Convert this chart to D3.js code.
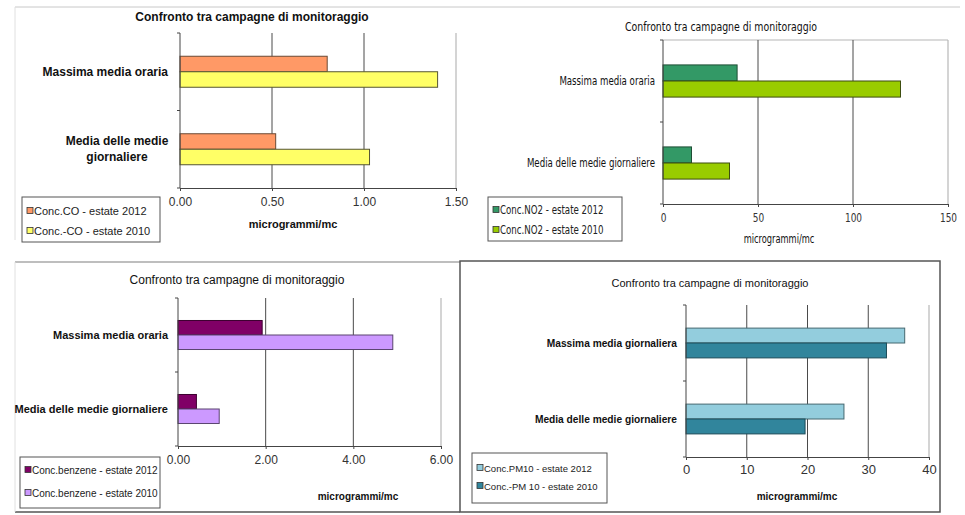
<!DOCTYPE html>
<html>
<head>
<meta charset="utf-8">
<script src="https://cdn.jsdelivr.net/npm/d3@7"></script>
<style>
  body { margin: 0; background: #fff; }
  svg { display: block; }
</style>
</head>
<body>
<div id="chart"></div>
<script>
// ---------- data ----------
var titleText = "Confronto  tra campagne di monitoraggio";
var unitText = "microgrammi/mc";

var coCategories = ["Massima media oraria", "Media delle medie giornaliere"];
var coSeries = ["Conc.CO - estate 2012", "Conc.-CO - estate 2010"];
var co2012 = [0.80, 0.52];
var co2010 = [1.40, 1.03];
var coTicks = [0, 0.5, 1.0, 1.5];

var no2Categories = ["Massima media oraria", "Media delle medie giornaliere"];
var no2Series = ["Conc.NO2 - estate 2012", "Conc.NO2 - estate 2010"];
var no22012 = [39, 15];
var no22010 = [125, 35];
var no2Ticks = [0, 50, 100, 150];

var bzCategories = ["Massima media oraria", "Media delle medie giornaliere"];
var bzSeries = ["Conc.benzene - estate 2012", "Conc.benzene - estate 2010"];
var bz2012 = [1.92, 0.42];
var bz2010 = [4.90, 0.94];
var bzTicks = [0, 2, 4, 6];

var pmCategories = ["Massima media giornaliera", "Media delle medie giornaliere"];
var pmSeries = ["Conc.PM10 - estate 2012", "Conc.-PM 10 - estate 2010"];
var pm2012 = [36, 26];
var pm2010 = [33, 19.6];
var pmTicks = [0, 10, 20, 30, 40];

var svg = d3.select("#chart").append("svg")
    .attr("width", 965)
    .attr("height", 515);

var arial = "'Liberation Sans', Arial, sans-serif";
var narrow = "'Liberation Sans Narrow', 'DejaVu Sans Condensed', 'Liberation Sans', sans-serif";

// narrow text: squeeze horizontally (Arial Narrow look)
function styleText(sel, cfg) {
    sel.style("font-family", cfg.font);
    if (cfg.squeeze) sel.style("font-stretch", "condensed");
    return sel;
}

// frame lines between the pictures
svg.append("line").attr("x1", 15).attr("x2", 960).attr("y1", 7).attr("y2", 7)
    .attr("stroke", "#c8c8c8");
svg.append("line").attr("x1", 15).attr("x2", 15).attr("y1", 7).attr("y2", 240)
    .attr("stroke", "#e0e0e0");
svg.append("line").attr("x1", 15).attr("x2", 460).attr("y1", 262).attr("y2", 262)
    .attr("stroke", "#a8a8a8").attr("stroke-width", 1.5);
svg.append("line").attr("x1", 15).attr("x2", 460).attr("y1", 512).attr("y2", 512)
    .attr("stroke", "#555").attr("stroke-width", 1.5);
svg.append("line").attr("x1", 15).attr("x2", 15).attr("y1", 262).attr("y2", 512)
    .attr("stroke", "#e0e0e0");
svg.append("rect").attr("x", 460).attr("y", 261).attr("width", 480).attr("height", 251)
    .attr("fill", "none").attr("stroke", "#555").attr("stroke-width", 1.5);

function fitWidth(textSel, w) {
    if (w) textSel.attr("textLength", w).attr("lengthAdjust", "spacingAndGlyphs");
}

function drawPanel(cfg) {
    var g = svg.append("g");

    var x = d3.scaleLinear()
        .domain([cfg.ticks[0], cfg.ticks[cfg.ticks.length - 1]])
        .range([cfg.x0, cfg.x1]);

    var y = d3.scaleBand()
        .domain(cfg.categories)
        .range([cfg.top, cfg.bottom]);

    var ySub = d3.scaleBand()
        .domain([0, 1])
        .range([0, y.bandwidth()])
        .paddingInner(0)
        .paddingOuter(cfg.outer);

    var sq = cfg.squeeze || 1;

    // title
    var title = g.append("text")
        .attr("x", cfg.titleX).attr("y", cfg.titleY)
        .attr("text-anchor", "middle")
        .style("font-size", cfg.titleSize + "px")
        .style("font-weight", cfg.titleBold ? "bold" : "normal")
        .attr("fill", "#111")
        .text(titleText);
    styleText(title, cfg);
    if (cfg.squeeze) fitWidth(title, cfg.titleW);

    // plot area border (light)
    g.append("line")
        .attr("x1", x.range()[1]).attr("x2", x.range()[1])
        .attr("y1", cfg.top).attr("y2", cfg.bottom)
        .attr("stroke", "#a9a9a9");
    if (cfg.topBorder) {
        g.append("line")
            .attr("x1", cfg.x0).attr("x2", cfg.x1)
            .attr("y1", cfg.top).attr("y2", cfg.top)
            .attr("stroke", "#b5b5b5");
    }

    // gridlines
    g.selectAll(".grid")
        .data(cfg.ticks.slice(1, -1))
        .enter().append("line")
        .attr("class", "grid")
        .attr("x1", function (d) { return x(d); })
        .attr("x2", function (d) { return x(d); })
        .attr("y1", cfg.top).attr("y2", cfg.bottom)
        .attr("stroke", "#4a4a4a");

    // bars
    var series = [cfg.v2012, cfg.v2010];
    series.forEach(function (vals, si) {
        g.selectAll(".bar" + si)
            .data(vals)
            .enter().append("rect")
            .attr("class", "bar" + si)
            .attr("x", x(0))
            .attr("y", function (d, i) { return y(cfg.categories[i]) + ySub(si); })
            .attr("width", function (d) { return x(d) - x(0); })
            .attr("height", ySub.bandwidth())
            .attr("fill", cfg.colors[si])
            .attr("stroke", cfg.strokes[si])
            .attr("stroke-width", 1);
    });

    // x axis
    var xAxis = g.append("g")
        .attr("transform", "translate(0," + cfg.bottom + ")")
        .call(d3.axisBottom(x).tickValues(cfg.ticks).tickSize(3).tickPadding(cfg.tickPad)
            .tickFormat(d3.format(cfg.fmt)));
    xAxis.select(".domain").attr("stroke", "#444");
    xAxis.selectAll(".tick line").attr("stroke", "#444");
    xAxis.selectAll("text")
        .style("font-family", cfg.font)
        .style("font-size", cfg.tickSize + "px")
        .attr("fill", "#333");
    if (cfg.squeeze) {
        xAxis.selectAll("text").each(function () {
            var t = d3.select(this);
            fitWidth(t, this.getComputedTextLength() * sq);
        });
    }

    // y axis: line with ticks at band edges
    var edges = cfg.categories.map(function (c) { return y(c); }).concat([cfg.bottom]);
    g.append("line")
        .attr("x1", cfg.x0).attr("x2", cfg.x0)
        .attr("y1", cfg.top).attr("y2", cfg.bottom)
        .attr("stroke", "#444");
    g.selectAll(".ytick")
        .data(edges)
        .enter().append("line")
        .attr("class", "ytick")
        .attr("x1", cfg.x0 - 3).attr("x2", cfg.x0)
        .attr("y1", function (d) { return d; })
        .attr("y2", function (d) { return d; })
        .attr("stroke", "#444");

    // category labels
    cfg.categories.forEach(function (c, i) {
        var lines = cfg.wrap[i];
        var cy = y(c) + y.bandwidth() / 2;
        lines.forEach(function (ln, k) {
            var t = g.append("text")
                .attr("text-anchor", lines.length > 1 ? "middle" : "end")
                .attr("x", lines.length > 1 ? cfg.labelMid : cfg.labelX)
                .attr("y", cy + 4 + (k - (lines.length - 1) / 2) * 16)
                .style("font-size", cfg.labelSize + "px")
                .style("font-weight", cfg.labelBold ? "bold" : "normal")
                .attr("fill", "#111")
                .text(ln);
            styleText(t, cfg);
            if (cfg.squeeze) fitWidth(t, t.node().getComputedTextLength() * sq);
        });
    });

    // axis title
    var ut = g.append("text")
        .attr("x", cfg.unitX).attr("y", cfg.unitY)
        .attr("text-anchor", "middle")
        .style("font-size", cfg.unitSize + "px")
        .style("font-weight", cfg.unitBold ? "bold" : "normal")
        .attr("fill", "#111")
        .text(unitText);
    styleText(ut, cfg);
    if (cfg.squeeze) fitWidth(ut, ut.node().getComputedTextLength() * sq);

    // legend
    var lg = g.append("g").attr("transform", "translate(" + cfg.leg[0] + "," + cfg.leg[1] + ")");
    lg.append("rect")
        .attr("width", cfg.leg[2]).attr("height", cfg.leg[3])
        .attr("fill", "#fff").attr("stroke", "#555");
    cfg.series.forEach(function (s, si) {
        var ly = cfg.legRows[si];
        lg.append("rect")
            .attr("x", 5).attr("y", ly - 3.5)
            .attr("width", 6).attr("height", 6)
            .attr("fill", cfg.colors[si]).attr("stroke", "#333").attr("stroke-width", 0.8);
        var lt = lg.append("text")
            .attr("x", 12).attr("y", ly + 3.5)
            .style("font-size", cfg.legSize + "px")
            .attr("fill", "#222")
            .text(s);
        styleText(lt, cfg);
        if (cfg.squeeze) fitWidth(lt, lt.node().getComputedTextLength() * sq);
    });
}

drawPanel({
    categories: coCategories, series: coSeries, v2012: co2012, v2010: co2010, ticks: coTicks,
    fmt: ".2f", x0: 180, x1: 456, top: 33, bottom: 188, outer: 1.5,
    colors: ["#ff9966", "#ffff66"], strokes: ["#6b4a35", "#555533"],
    font: arial, titleX: 252, titleY: 21, titleSize: 12, titleBold: true,
    tickSize: 12, tickPad: 6, labelSize: 12, labelBold: true, labelX: 168, labelMid: 117,
    wrap: [["Massima media oraria"], ["Media delle medie", "giornaliere"]],
    unitX: 293, unitY: 228, unitSize: 11, unitBold: true,
    leg: [22, 197, 138, 45], legRows: [14, 34], legSize: 11
});

drawPanel({
    categories: no2Categories, series: no2Series, v2012: no22012, v2010: no22010, ticks: no2Ticks,
    fmt: "d", x0: 663, x1: 948, top: 40, bottom: 204, outer: 1.55, topBorder: true,
    colors: ["#339966", "#99cc00"], strokes: ["#1f4d35", "#3d4d10"],
    font: narrow, squeeze: 0.8, titleW: 192, titleX: 721, titleY: 31, titleSize: 12, titleBold: false,
    tickSize: 12.5, tickPad: 6, labelSize: 12, labelBold: false, labelX: 655, labelMid: 600,
    wrap: [["Massima media oraria"], ["Media delle medie giornaliere"]],
    unitX: 779, unitY: 243, unitSize: 11.5, unitBold: false,
    leg: [488, 197, 134, 44], legRows: [13, 33], legSize: 12
});

drawPanel({
    categories: bzCategories, series: bzSeries, v2012: bz2012, v2010: bz2010, ticks: bzTicks,
    fmt: ".2f", x0: 178, x1: 441, top: 298, bottom: 446, outer: 1.55,
    colors: ["#800066", "#cc99ff"], strokes: ["#3d0030", "#5a4570"],
    font: arial, titleX: 237, titleY: 284, titleSize: 12, titleBold: false,
    tickSize: 12, tickPad: 6, labelSize: 11, labelBold: true, labelX: 168, labelMid: 100,
    wrap: [["Massima media oraria"], ["Media delle medie giornaliere"]],
    unitX: 358, unitY: 500, unitSize: 10, unitBold: true,
    leg: [20, 457, 140, 51], legRows: [13, 36], legSize: 10
});

drawPanel({
    categories: pmCategories, series: pmSeries, v2012: pm2012, v2010: pm2010, ticks: pmTicks,
    fmt: "d", x0: 686, x1: 929, top: 305, bottom: 457, outer: 1.55,
    colors: ["#93cddd", "#31859c"], strokes: ["#456870", "#1d4c59"],
    font: arial, titleX: 710, titleY: 287, titleSize: 11, titleBold: false,
    tickSize: 13, tickPad: 5, labelSize: 10.2, labelBold: true, labelX: 677, labelMid: 600,
    wrap: [["Massima media giornaliera"], ["Media delle medie giornaliere"]],
    unitX: 797, unitY: 500, unitSize: 10, unitBold: true,
    leg: [472, 453, 135, 50], legRows: [15, 33], legSize: 9.5
});
</script>
</body>
</html>
